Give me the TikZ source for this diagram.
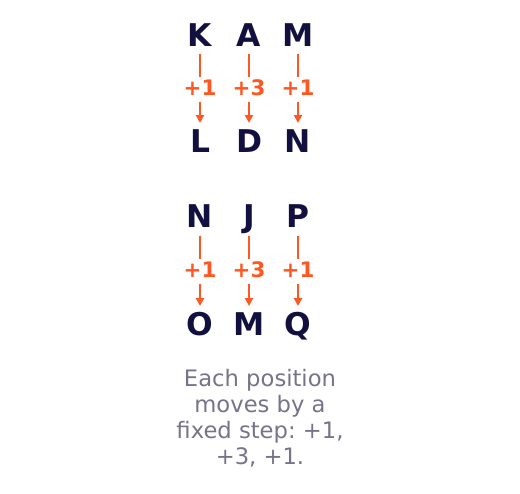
\documentclass[tikz,border=0pt]{standalone}
\usepackage{fontspec}
\setmainfont{DejaVu Sans}
\usetikzlibrary{arrows.meta}
\definecolor{navy}{HTML}{12103F}
\definecolor{orng}{HTML}{FF5722}
\definecolor{capg}{HTML}{77738A}
\tikzset{
  letter/.style={text=navy, font=\bfseries\fontsize{23.5}{26}\selectfont, inner sep=0pt, anchor=base},
  stepl/.style={text=orng, font=\bfseries\fontsize{16}{18}\selectfont, inner sep=0pt, anchor=base},
  stem/.style={draw=orng, line width=1.6pt},
  arr/.style={draw=orng, line width=1.6pt, -{Triangle[length=6pt,width=6pt]}},
  caption/.style={text=capg, font=\frenchspacing\fontsize{17}{19.5}\selectfont, align=center, inner sep=0pt}
}
\begin{document}
\begin{tikzpicture}[x=0.75pt,y=-0.75pt]
\useasboundingbox (0,0) rectangle (520,493);
% block 1
\foreach \nm/\x/\t/\b/\s in {a/200/K/L/+1, b/249/A/D/+3, c/298/M/N/+1}{
  \node[letter] (t\nm) at (\x,46) {\t};
  \node[letter] (b\nm) at (\x,152) {\b};
  \node[stepl] (s\nm) at (\x,95) {\s};
  \coordinate (p\nm) at (\x,54);
  \coordinate (q\nm) at (\x,77);
  \coordinate (r\nm) at (\x,102);
  \coordinate (u\nm) at (\x,123);
  \draw[stem] (p\nm) -- (q\nm);
  \draw[arr] (r\nm) -- (u\nm);
}
% block 2
\foreach \nm/\x/\t/\b/\s in {d/200/N/O/+1, e/249/J/M/+3, f/298/P/Q/+1}{
  \node[letter] (t\nm) at (\x,227) {\t};
  \node[letter] (b\nm) at (\x,335) {\b};
  \node[stepl] (s\nm) at (\x,277) {\s};
  \coordinate (p\nm) at (\x,236);
  \coordinate (q\nm) at (\x,259);
  \coordinate (r\nm) at (\x,284);
  \coordinate (u\nm) at (\x,306);
  \draw[stem] (p\nm) -- (q\nm);
  \draw[arr] (r\nm) -- (u\nm);
}
\node[caption] (cap) at (260,418) {Each position\\moves by a\\fixed step: +1,\\+3, +1.};
\end{tikzpicture}
\end{document}
